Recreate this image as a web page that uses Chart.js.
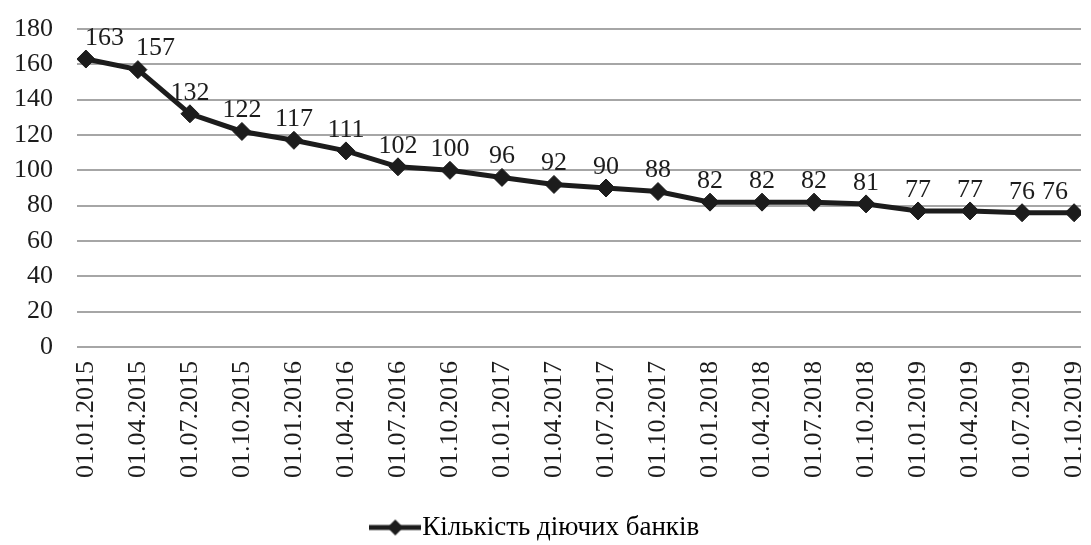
<!DOCTYPE html>
<html>
<head>
<meta charset="utf-8">
<script src="https://cdn.jsdelivr.net/npm/chart.js@4/dist/chart.umd.min.js"></script>
<style>
  html, body { margin: 0; padding: 0; background: #fff; }
  #wrap { width: 1091px; height: 545px; }
</style>
</head>
<body>
<div id="wrap"><canvas id="banks-chart"></canvas></div>
<script>
const dates = ['01.01.2015', '01.04.2015', '01.07.2015', '01.10.2015', '01.01.2016', '01.04.2016',
    '01.07.2016', '01.10.2016', '01.01.2017', '01.04.2017', '01.07.2017', '01.10.2017',
    '01.01.2018', '01.04.2018', '01.07.2018', '01.10.2018', '01.01.2019', '01.04.2019',
    '01.07.2019', '01.10.2019'];
const banks = [163, 157, 132, 122, 117, 111, 102, 100, 96, 92, 90, 88, 82, 82, 82, 81, 77, 77, 76, 76];
const yTicks = [0, 20, 40, 60, 80, 100, 120, 140, 160, 180];
const seriesName = 'Кількість діючих банків';

const FONT = 'Liberation Serif, Times New Roman, serif';
const INK = '#1c1c1c';

function legendIcon() {
    const c = document.createElement('canvas');
    c.width = 52;
    c.height = 20;
    const ctx = c.getContext('2d');
    ctx.strokeStyle = INK;
    ctx.lineWidth = 5;
    ctx.beginPath();
    ctx.moveTo(0, 10);
    ctx.lineTo(52, 10);
    ctx.stroke();
    ctx.fillStyle = INK;
    ctx.beginPath();
    ctx.moveTo(26, 2);
    ctx.lineTo(34, 10);
    ctx.lineTo(26, 18);
    ctx.lineTo(18, 10);
    ctx.closePath();
    ctx.fill();
    return c;
}

// value labels above each point, kept inside the plot area and off each other
const valueLabels = {
    id: 'valueLabels',
    afterDatasetsDraw(chart) {
        const ctx = chart.ctx;
        const area = chart.chartArea;
        const meta = chart.getDatasetMeta(0);
        ctx.save();
        ctx.font = '26px ' + FONT;
        ctx.fillStyle = INK;
        ctx.textAlign = 'center';
        ctx.textBaseline = 'middle';
        let prev = null;
        meta.data.forEach((pt, i) => {
            const text = String(banks[i]);
            const half = ctx.measureText(text).width / 2;
            const y = pt.y - 21;
            let x = Math.max(pt.x, area.left + 8 + half);
            if (prev && Math.abs(prev.y - y) < 24 && x - half < prev.right + 12) {
                x = prev.right + 12 + half;
            }
            x = Math.min(x, area.right - 13 - half);
            ctx.fillText(text, x, y);
            prev = { right: x + half, y };
        });
        ctx.restore();
    },
};

const points = banks.map((v, i) => ({ x: i, y: v }));

new Chart(document.getElementById('banks-chart'), {
    type: 'line',
    data: {
        datasets: [
            {
                label: seriesName,
                data: points,
                borderColor: INK,
                backgroundColor: INK,
                borderWidth: 5,
                pointStyle: 'rectRot',
                pointRadius: 9,
                pointBackgroundColor: INK,
                pointBorderColor: INK,
                pointBorderWidth: 1,
                tension: 0,
                fill: false,
            },
        ],
    },
    options: {
        responsive: true,
        maintainAspectRatio: false,
        animation: false,
        layout: {
            padding: { top: 29, right: 0, left: -10, bottom: -6 },
        },
        plugins: {
            legend: {
                position: 'bottom',
                labels: {
                    color: INK,
                    font: { family: FONT, size: 27 },
                    usePointStyle: true,
                    padding: 12,
                    generateLabels(chart) {
                        return [{
                            text: seriesName,
                            pointStyle: legendIcon(),
                            fillStyle: INK,
                            strokeStyle: INK,
                            lineWidth: 0,
                            datasetIndex: 0,
                        }];
                    },
                },
            },
            tooltip: { enabled: false },
        },
        scales: {
            x: {
                type: 'linear',
                min: -0.171,
                max: 19.133,
                afterBuildTicks(scale) {
                    scale.ticks = dates.map((d, i) => ({ value: i }));
                },
                afterFit(scale) {
                    scale.paddingLeft = 0;
                    scale.paddingRight = 0;
                    scale.height += 10;
                },
                grid: { display: false, drawTicks: false },
                border: { display: false },
                ticks: {
                    color: INK,
                    font: { family: FONT, size: 26 },
                    minRotation: 90,
                    maxRotation: 90,
                    autoSkip: false,
                    padding: 14,
                    callback(value) {
                        return dates[value];
                    },
                },
            },
            y: {
                min: 0,
                max: 180,
                afterBuildTicks(scale) {
                    scale.ticks = yTicks.map(v => ({ value: v }));
                },
                afterFit(scale) {
                    scale.paddingTop = 0;
                    scale.paddingBottom = 0;
                },
                grid: { color: '#a6a6a6', lineWidth: 2, drawTicks: false },
                border: { display: false },
                ticks: {
                    color: INK,
                    font: { family: FONT, size: 26 },
                    autoSkip: false,
                    padding: 24,
                },
            },
        },
    },
    plugins: [valueLabels],
});
</script>
</body>
</html>
